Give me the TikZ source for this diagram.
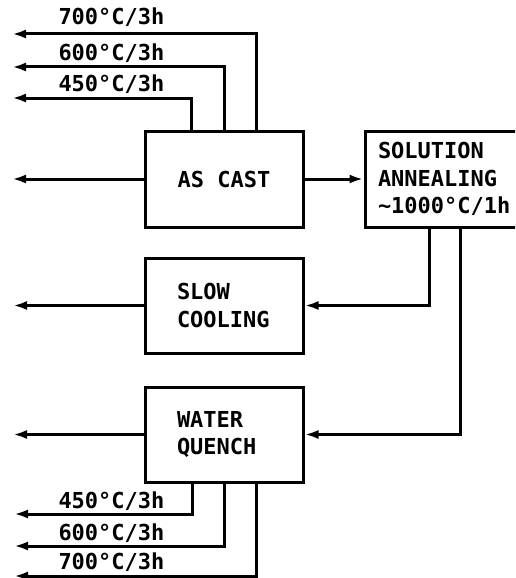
\documentclass[tikz,border=0pt]{standalone}
\usepackage{fontspec}
\newfontfamily\plotfont{DejaVu Sans Mono}
\newcommand{\plotlabel}{\plotfont\bfseries\fontsize{22}{27.5}\selectfont}
\usetikzlibrary{arrows.meta}

\begin{document}
\begin{tikzpicture}[x=1pt,y=-1pt,line width=3pt,
  box/.style={draw,minimum width=158pt,minimum height=96pt,inner sep=0pt,font=\plotlabel},
  arr/.style={-{Latex[length=14pt,width=9pt]}},
  temp/.style={anchor=base west,inner sep=0pt,font=\plotlabel}]
\useasboundingbox (0,0) rectangle (515,578);
\clip (0,0) rectangle (515,578);
% heat treatment boxes
\node[box,align=center] (cast) at (224,179) {AS CAST};
\node[box,minimum width=170pt,text width=144pt,align=left] (anneal) at (450,179)
  {SOLUTION\\ANNEALING\\\textasciitilde1000°C/1h};
\node[box,minimum height=95pt,text width=94pt,align=left] (slow) at (224,305.5) {SLOW\\COOLING};
\node[box,minimum height=95pt,text width=94pt,align=left] (quench) at (224,434.5) {WATER\\QUENCH};
% free ends on the left
\coordinate (ocast) at (12,179);
\coordinate (oslow) at (13,305.5);
\coordinate (oquench) at (13,434.5);
\draw[arr] (cast.west) -- (ocast);
\draw[arr] (slow.west) -- (oslow);
\draw[arr] (quench.west) -- (oquench);
\draw[arr] (cast.east) -- (anneal.west);
\draw[arr] ([xshift=-21pt]anneal.south) |- (slow.east);
\draw[arr] ([xshift=10pt]anneal.south) |- (quench.east);
% tempering of the cast state
\foreach \dx/\y/\yb/\t in {-33/98/92/450, 0/67/61/600, 32/34/25/700} {
  \coordinate (up\t) at (12,\y);
  \draw[arr] ([xshift=\dx pt]cast.north) |- (up\t);
  \node[temp] (lup\t) at (57,\yb) {\t°C/3h};
}
% tempering after quench
\foreach \dx/\y/\yb/\t in {-32/514/508/450, 0/546/540/600, 32/576/569/700} {
  \coordinate (dn\t) at (14,\y);
  \draw[arr] ([xshift=\dx pt]quench.south) |- (dn\t);
  \node[temp] (ldn\t) at (57,\yb) {\t°C/3h};
}
\end{tikzpicture}
\end{document}
